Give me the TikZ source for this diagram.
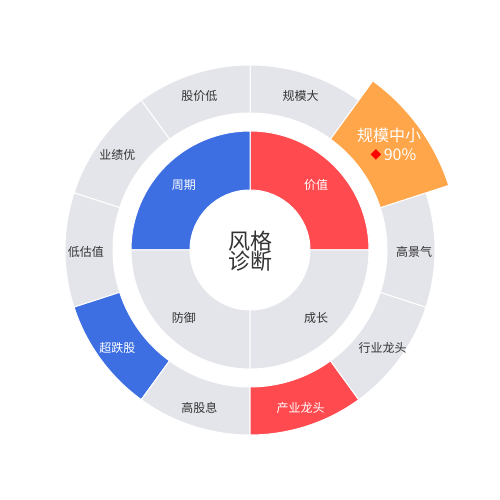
\documentclass[tikz,border=0pt]{standalone}
\usepackage{fontspec}
\setmainfont{Noto Sans CJK SC}
\newfontfamily\symfont{DejaVu Sans}
\definecolor{cred}{HTML}{FF4B50}
\definecolor{cblue}{HTML}{3D6FE2}
\definecolor{corange}{HTML}{FFA54A}
\definecolor{cgray}{HTML}{E4E5EA}
\definecolor{ctext}{HTML}{333333}
\newcommand{\annsec}[5]{% color, a1, a2, r1, r2
  \fill[#1, draw=white, line width=1pt] (#2:#4) arc[start angle=#2, end angle=#3, radius=#4] -- (#3:#5) arc[start angle=#3, end angle=#2, radius=#5] -- cycle;}
\tikzset{
  glabel/.style={text=ctext, font=\fontsize{12}{14}\selectfont, inner sep=0pt},
  wlabel/.style={text=white, font=\fontsize{12}{14}\selectfont, inner sep=0pt},
}
\begin{document}
\begin{tikzpicture}[x=1pt,y=1pt]
\useasboundingbox (-250,-250) rectangle (250,250);
% inner ring
\annsec{cred}{0}{90}{60}{119}
\annsec{cblue}{90}{180}{60}{119}
\annsec{cgray}{180}{270}{60}{119}
\annsec{cgray}{270}{360}{60}{119}
% outer ring
\annsec{cgray}{54}{90}{137}{185}
\annsec{cgray}{90}{126}{137}{185}
\annsec{cgray}{126}{162}{137}{185}
\annsec{cgray}{162}{198}{137}{185}
\annsec{cblue}{198}{234}{137}{185}
\annsec{cgray}{234}{270}{137}{185}
\annsec{cred}{270}{306}{137}{185}
\annsec{cgray}{306}{342}{137}{185}
\annsec{cgray}{342}{378}{137}{185}
\annsec{corange}{18}{54}{137}{209}
% inner labels
\begin{scope}[shift={(0,-1.5)}]
\node[wlabel] (jz) at (45:93.5) {价值};
\node[wlabel] (zq) at (135:93.5) {周期};
\node[glabel] (fy) at (225:93.5) {防御};
\node[glabel] (cz) at (315:93.5) {成长};
% outer labels
\node[glabel] (gmd) at (72:164) {规模大};
\node[glabel] (gjd) at (108:164) {股价低};
\node[glabel] (yjy) at (144:164) {业绩优};
\node[glabel] (dgz) at (180:164) {低估值};
\node[wlabel] (cdg) at (216:164) {超跌股};
\node[glabel] (ggx) at (252:164) {高股息};
\node[wlabel] (cylt) at (288:164) {产业龙头};
\node[glabel] (hylt) at (324:164) {行业龙头};
\node[glabel] (gjq) at (0:164) {高景气};
\end{scope}
\node[text=white, font=\fontsize{16}{18}\selectfont, inner sep=0pt] (gmzx) at (139,115) {规模中小};
\node[text=red, font=\symfont\fontsize{14}{14}\selectfont, inner sep=0pt] (dia) at (126,95.5) {◆};
\node[text=white, font=\fontsize{16}{18}\selectfont, inner sep=0pt] (pct) at (150,95) {90\%};
% center
\node[text=ctext, font=\fontsize{22}{24}\selectfont, align=center, inner sep=0pt] (center) at (0,-1) {风格\\[-4pt]诊断};
\end{tikzpicture}
\end{document}
